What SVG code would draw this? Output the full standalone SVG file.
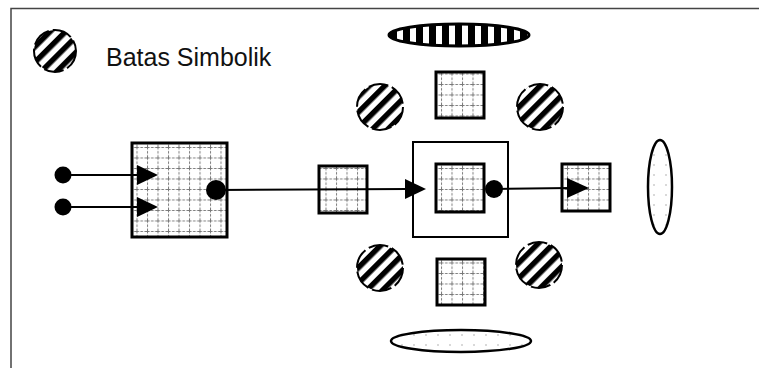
<svg xmlns="http://www.w3.org/2000/svg" width="759" height="368" viewBox="0 0 759 368">
<style>
.frame{stroke:#444;stroke-width:1.5;fill:none}
.sq{fill:url(#grid);stroke:#000;stroke-width:3}
.bnd{fill:url(#hatch);stroke:#000;stroke-width:2;stroke-dasharray:20 4}
.ln{stroke:#000;stroke-width:2;fill:none}
.dot{fill:#000}
.arr{fill:#000}
.lbl{font-family:"Liberation Sans",Arial,sans-serif;font-size:25px;fill:#111}
</style>
<defs>
<pattern id="grid" patternUnits="userSpaceOnUse" width="10.5" height="10.5">
<rect width="10.5" height="10.5" fill="#fff"/>
<path d="M0,0.5 H10.5 M0.5,0 V10.5" stroke="#777" stroke-width="1" stroke-dasharray="2.5 1.5"/>
</pattern>
<pattern id="hatch" patternUnits="userSpaceOnUse" width="11" height="11" patternTransform="rotate(-45)">
<rect width="11" height="11" fill="#fff"/>
<rect y="0" width="11" height="5.5" fill="#000"/>
</pattern>
<pattern id="vstripe" patternUnits="userSpaceOnUse" width="13" height="13">
<rect width="13" height="13" fill="#fff"/>
<rect x="0" width="7" height="13" fill="#000"/>
</pattern>
<pattern id="dots" patternUnits="userSpaceOnUse" width="12" height="10">
<rect width="12" height="10" fill="#fff"/>
<circle cx="6" cy="5" r="0.8" fill="#aaa"/>
</pattern>
</defs>
<path class="frame" d="M11,368 V8.5 H759"/>
<g id="legend">
<circle class="bnd" cx="55" cy="51" r="21"/>
<text class="lbl" x="106" y="66">Batas Simbolik</text>
</g>
<g id="ellipse-top"><ellipse cx="459" cy="35" rx="70" ry="11" fill="url(#vstripe)" stroke="#000" stroke-width="3"/></g>
<g id="ellipse-bottom"><ellipse cx="461" cy="341" rx="70" ry="11" fill="url(#dots)" stroke="#000" stroke-width="2.5"/></g>
<g id="ellipse-right"><ellipse cx="660" cy="187" rx="12" ry="47" fill="url(#dots)" stroke="#000" stroke-width="2.5"/></g>
<g id="boundary-tl"><circle class="bnd" cx="380" cy="107" r="23"/></g>
<g id="boundary-tr"><circle class="bnd" cx="540" cy="107" r="23"/></g>
<g id="boundary-bl"><circle class="bnd" cx="380" cy="268" r="23"/></g>
<g id="boundary-br"><circle class="bnd" cx="539" cy="265" r="23"/></g>
<g id="square-top"><rect class="sq" x="436" y="72" width="48" height="46"/></g>
<g id="square-bottom"><rect class="sq" x="437" y="259" width="48" height="46"/></g>
<g id="big-square"><rect class="sq" x="132" y="143" width="95" height="94"/></g>
<g id="square-left"><rect class="sq" x="319" y="166" width="48" height="47"/></g>
<g id="center-box"><rect x="413" y="142" width="95" height="95" fill="#fff" stroke="#000" stroke-width="2"/></g>
<g id="square-center"><rect class="sq" x="436" y="164" width="48" height="48"/></g>
<g id="square-right"><rect class="sq" x="562" y="164" width="48" height="47"/></g>
<g id="connectors">
<line class="ln" x1="63" y1="175" x2="140" y2="175"/>
<line class="ln" x1="63" y1="207" x2="140" y2="207"/>
<line class="ln" x1="216" y1="190" x2="408" y2="189"/>
<line class="ln" x1="494" y1="189" x2="570" y2="188"/>
<circle class="dot" cx="63" cy="175" r="8.5"/>
<circle class="dot" cx="63" cy="207" r="8.5"/>
<circle class="dot" cx="216" cy="190" r="10"/>
<circle class="dot" cx="494" cy="189" r="9"/>
<path class="arr" d="M137,165 L158,175 L137,185 Z"/>
<path class="arr" d="M137,197 L158,207 L137,217 Z"/>
<path class="arr" d="M405,179 L426,189 L405,199 Z"/>
<path class="arr" d="M567,178 L589,188 L567,198 Z"/>
</g>
</svg>
